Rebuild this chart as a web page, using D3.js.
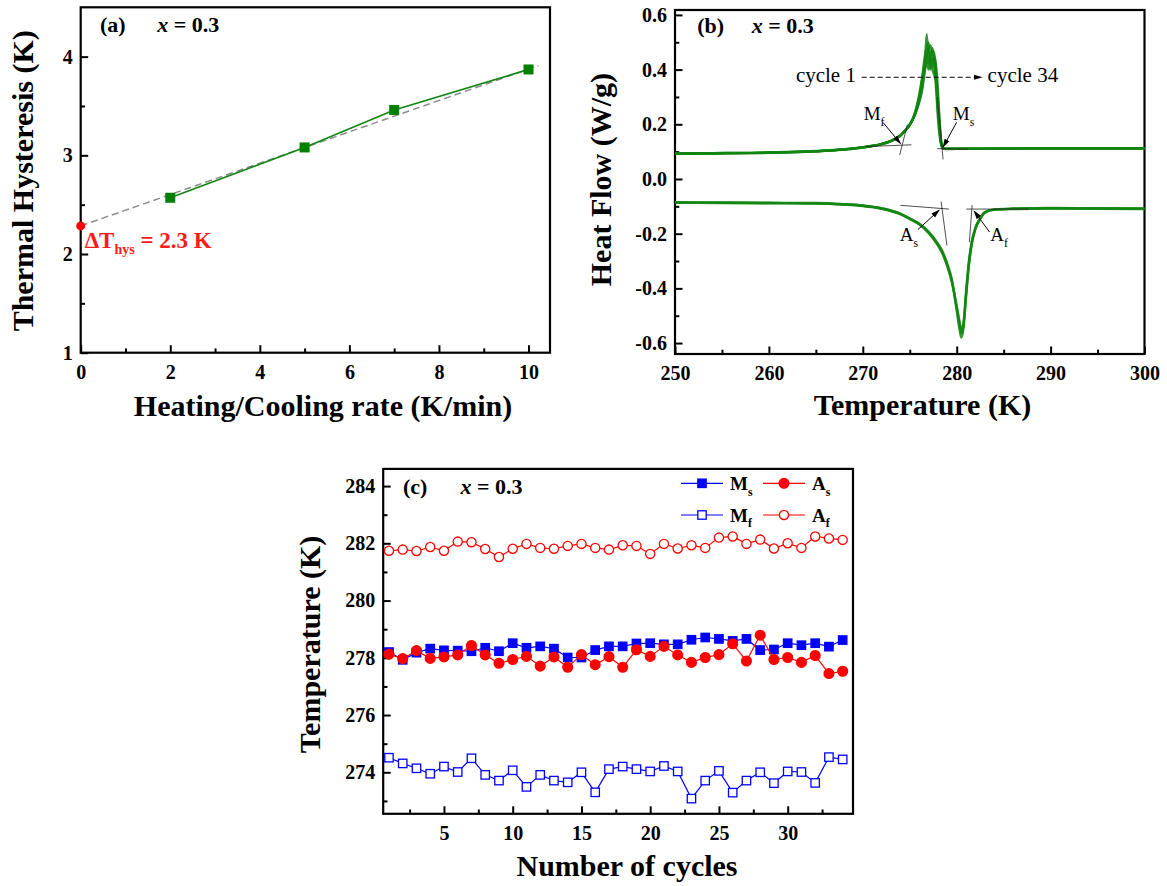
<!DOCTYPE html>
<html>
<head>
<meta charset="utf-8">
<script src="https://cdn.jsdelivr.net/npm/d3@7"></script>
<style>
body { margin: 0; background: #fff; }
svg { display: block; }
text { font-family: "Liberation Serif", "Times New Roman", serif; }
</style>
</head>
<body>
<svg id="plot" width="1167" height="886"></svg>
<script>
// ---- (a) hysteresis vs rate
rateX = [2, 5, 7, 10];
hysY = [2.57, 3.08, 3.46, 3.87];
fitX = [0, 10.22];
fitY = [2.285, 3.908];
zeroRate = [0];
zeroHys = [2.285];
aTicksX = [0, 2, 4, 6, 8, 10];
aMinorX = [1, 3, 5, 7, 9];
aTicksY = [1, 2, 3, 4];
aMinorY = [1.5, 2.5, 3.5];

// ---- (b) DSC curves
tempCool = [250, 254, 258, 262, 265, 268, 270, 271, 272, 273, 273.5, 274, 274.5, 275, 275.5,
    276, 276.3, 276.6, 276.8, 277, 277.2, 277.4, 277.6, 277.8, 278, 278.2, 278.4, 278.6,
    279, 280, 285, 290, 295, 300];
coolA = [0.093, 0.094, 0.095, 0.098, 0.102, 0.108, 0.116, 0.121, 0.128, 0.139, 0.148, 0.159, 0.176, 0.198, 0.232,
    0.29, 0.34, 0.42, 0.53, 0.45, 0.40, 0.44, 0.42, 0.33, 0.22, 0.15, 0.118, 0.111,
    0.110, 0.110, 0.111, 0.112, 0.112, 0.112];
coolB = [0.092, 0.093, 0.094, 0.097, 0.101, 0.107, 0.115, 0.120, 0.127, 0.138, 0.147, 0.158, 0.175, 0.197, 0.235,
    0.30, 0.36, 0.45, 0.48, 0.50, 0.43, 0.47, 0.46, 0.38, 0.26, 0.17, 0.120, 0.111,
    0.109, 0.110, 0.110, 0.111, 0.111, 0.111];
coolC = [0.094, 0.095, 0.096, 0.099, 0.103, 0.109, 0.117, 0.122, 0.129, 0.140, 0.149, 0.160, 0.177, 0.199, 0.230,
    0.28, 0.33, 0.40, 0.44, 0.47, 0.49, 0.46, 0.41, 0.35, 0.25, 0.16, 0.120, 0.112,
    0.111, 0.111, 0.112, 0.113, 0.113, 0.113];
coolD = [0.093, 0.094, 0.095, 0.098, 0.102, 0.108, 0.116, 0.121, 0.128, 0.139, 0.148, 0.160, 0.178, 0.201, 0.238,
    0.31, 0.37, 0.43, 0.46, 0.42, 0.45, 0.48, 0.44, 0.40, 0.30, 0.19, 0.125, 0.112,
    0.110, 0.110, 0.111, 0.112, 0.112, 0.112];
coolE = [0.092, 0.093, 0.095, 0.097, 0.101, 0.107, 0.115, 0.120, 0.127, 0.138, 0.147, 0.158, 0.176, 0.198, 0.233,
    0.29, 0.35, 0.41, 0.45, 0.48, 0.44, 0.41, 0.45, 0.42, 0.33, 0.21, 0.13, 0.112,
    0.110, 0.110, 0.111, 0.111, 0.112, 0.112];
coolF = [0.094, 0.095, 0.096, 0.098, 0.102, 0.108, 0.116, 0.121, 0.128, 0.139, 0.148, 0.159, 0.176, 0.197, 0.229,
    0.28, 0.32, 0.39, 0.43, 0.40, 0.42, 0.40, 0.38, 0.36, 0.28, 0.18, 0.125, 0.111,
    0.110, 0.110, 0.111, 0.112, 0.112, 0.112];

tempHeat = [250, 255, 260, 265, 268, 270, 272, 274, 275, 276, 277, 278, 278.5, 279, 279.5,
    280, 280.3, 280.5, 280.7, 281, 281.3, 281.6, 282, 282.5, 283, 284, 286, 290, 295, 300];
heatA = [-0.086, -0.087, -0.088, -0.089, -0.093, -0.098, -0.108, -0.128, -0.145, -0.165, -0.195, -0.24, -0.27, -0.315, -0.375,
    -0.47, -0.53, -0.565, -0.54, -0.42, -0.31, -0.235, -0.18, -0.145, -0.122, -0.112, -0.109, -0.107, -0.108, -0.109];
heatB = [-0.085, -0.086, -0.087, -0.088, -0.092, -0.097, -0.107, -0.127, -0.144, -0.163, -0.192, -0.236, -0.266, -0.31, -0.37,
    -0.48, -0.55, -0.58, -0.55, -0.43, -0.315, -0.24, -0.182, -0.146, -0.123, -0.113, -0.110, -0.108, -0.109, -0.110];
heatC = [-0.087, -0.088, -0.089, -0.090, -0.094, -0.099, -0.109, -0.129, -0.146, -0.166, -0.197, -0.243, -0.274, -0.32, -0.38,
    -0.465, -0.52, -0.55, -0.535, -0.41, -0.30, -0.23, -0.178, -0.144, -0.121, -0.111, -0.108, -0.106, -0.107, -0.108];

bTicksX = [250, 260, 270, 280, 290, 300];
bMinorX = [255, 265, 275, 285, 295];
bTicksY = [-0.6, -0.4, -0.2, 0, 0.2, 0.4, 0.6];
bLabelsY = ["-0.6", "-0.4", "-0.2", "0.0", "0.2", "0.4", "0.6"];
bMinorY = [-0.5, -0.3, -0.1, 0.1, 0.3, 0.5];

// ---- (c) characteristic temperatures per cycle
cycleNo = [1, 2, 3, 4, 5, 6, 7, 8, 9, 10, 11, 12, 13, 14, 15, 16, 17,
    18, 19, 20, 21, 22, 23, 24, 25, 26, 27, 28, 29, 30, 31, 32, 33, 34];
Af = [281.74, 281.78, 281.73, 281.87, 281.74, 282.06, 282.04, 281.80, 281.52, 281.81, 281.98, 281.84,
    281.81, 281.91, 281.98, 281.84, 281.78, 281.93, 281.91, 281.63, 281.98, 281.82, 281.93, 281.84,
    282.20, 282.24, 281.98, 282.13, 281.82, 282.00, 281.84, 282.24, 282.17, 282.12];
Ms = [278.20, 277.93, 278.18, 278.32, 278.26, 278.25, 278.23, 278.35, 278.23, 278.51, 278.35, 278.40,
    278.32, 278.01, 278.01, 278.27, 278.40, 278.40, 278.50, 278.51, 278.47, 278.47, 278.63, 278.71,
    278.66, 278.59, 278.66, 278.27, 278.29, 278.51, 278.44, 278.51, 278.39, 278.62];
As = [278.13, 277.97, 278.25, 277.98, 278.03, 278.10, 278.43, 278.10, 277.81, 277.94, 278.05, 277.71,
    278.03, 277.67, 278.11, 277.76, 278.04, 277.67, 278.28, 278.05, 278.40, 278.10, 277.84, 278.01,
    278.11, 278.49, 277.89, 278.79, 277.94, 278.01, 277.84, 278.08, 277.45, 277.53];
Mf = [274.51, 274.31, 274.14, 273.95, 274.20, 274.01, 274.49, 273.91, 273.71, 274.07, 273.49, 273.91,
    273.71, 273.65, 274.00, 273.30, 274.11, 274.20, 274.11, 274.03, 274.22, 274.03, 273.08, 273.71,
    274.05, 273.29, 273.71, 274.00, 273.62, 274.03, 274.01, 273.63, 274.53, 274.45];
cTicksX = [5, 10, 15, 20, 25, 30];
cMinorX = [2.5, 7.5, 12.5, 17.5, 22.5, 27.5, 32.5];
cTicksY = [274, 276, 278, 280, 282, 284];
cMinorY = [273, 275, 277, 279, 281, 283];

const svg = d3.select("#plot");
const green = "#118611";

svg.append("defs").append("marker")
    .attr("id", "arr")
    .attr("viewBox", "0 0 10 6")
    .attr("refX", 9).attr("refY", 3)
    .attr("markerWidth", 9).attr("markerHeight", 6)
    .attr("markerUnits", "userSpaceOnUse")
    .attr("orient", "auto")
    .append("path").attr("d", "M0,0L10,3L0,6Z").attr("fill", "black");

function drawFrame(x, y, major, minor, labels) {
    const [x0, x1] = x.range();
    const [y0, y1] = y.range();
    const g = svg.append("g");

    const bx = g.append("g").attr("transform", `translate(0,${y0})`)
        .call(d3.axisBottom(x).tickValues(major.x).tickSize(-7.5).tickPadding(12)
            .tickFormat((d, i) => labels.x ? labels.x[i] : d));
    g.append("g").attr("transform", `translate(0,${y0})`)
        .call(d3.axisBottom(x).tickValues(minor.x).tickSize(-4.3).tickFormat(""));
    g.append("g").attr("transform", `translate(${x0},0)`)
        .call(d3.axisLeft(y).tickValues(major.y).tickSize(-7.5).tickPadding(8)
            .tickFormat((d, i) => labels.y ? labels.y[i] : d));
    g.append("g").attr("transform", `translate(${x0},0)`)
        .call(d3.axisLeft(y).tickValues(minor.y).tickSize(-4.3).tickFormat(""));

    g.selectAll(".domain").remove();
    g.selectAll(".tick line").attr("stroke", "black").attr("stroke-width", 2);
    g.selectAll(".tick text")
        .attr("font-family", "Liberation Serif")
        .attr("font-weight", "bold")
        .attr("font-size", 20)
        .attr("fill", "black");

    g.append("rect")
        .attr("x", x0).attr("y", y1)
        .attr("width", x1 - x0).attr("height", y0 - y1)
        .attr("fill", "none").attr("stroke", "black").attr("stroke-width", 2.2);
    return g;
}

function title(txt, x, y, rotate) {
    const t = svg.append("text")
        .text(txt)
        .attr("font-size", 30)
        .attr("font-weight", "bold")
        .attr("text-anchor", "middle");
    if (rotate) t.attr("transform", `translate(${x},${y}) rotate(-90)`);
    else t.attr("x", x).attr("y", y);
}

function panelTag(tag, x, xx, y) {
    svg.append("text").text(tag)
        .attr("x", x).attr("y", y)
        .attr("font-size", 22).attr("font-weight", "bold");
    const t = svg.append("text")
        .attr("x", xx).attr("y", y)
        .attr("font-size", 22).attr("font-weight", "bold");
    t.append("tspan").attr("font-style", "italic").text("x");
    t.append("tspan").text(" = 0.3");
}

function subLabel(g, main, sub, x, y, size, bold) {
    const t = g.append("text")
        .attr("x", x).attr("y", y)
        .attr("font-size", size)
        .attr("font-weight", bold ? "bold" : "normal");
    t.append("tspan").text(main);
    t.append("tspan").attr("font-size", size * 0.62).attr("dy", size * 0.3).text(sub);
    return t;
}

// ================= (a)
const xa = d3.scaleLinear().domain([0, 10.48]).range([80.7, 550]);
const ya = d3.scaleLinear().domain([1, 4.5]).range([352.7, 7.3]);
drawFrame(xa, ya, {x: aTicksX, y: aTicksY}, {x: aMinorX, y: aMinorY}, {});

svg.append("path")
    .datum(fitX.map((d, i) => [d, fitY[i]]))
    .attr("fill", "none")
    .attr("stroke", "#8c8c8c")
    .attr("stroke-width", 1.5)
    .attr("stroke-dasharray", "7,4")
    .attr("d", d3.line().x(d => xa(d[0])).y(d => ya(d[1])));

svg.append("path")
    .datum(rateX.map((d, i) => [d, hysY[i]]))
    .attr("fill", "none")
    .attr("stroke", green)
    .attr("stroke-width", 1.6)
    .attr("d", d3.line().x(d => xa(d[0])).y(d => ya(d[1])));

svg.append("g").selectAll("rect")
    .data(rateX.map((d, i) => [d, hysY[i]]))
    .join("rect")
    .attr("x", d => xa(d[0]) - 5).attr("y", d => ya(d[1]) - 5)
    .attr("width", 10).attr("height", 10)
    .attr("fill", "#008000");

svg.append("g").selectAll("circle")
    .data(zeroRate.map((d, i) => [d, zeroHys[i]]))
    .join("circle")
    .attr("cx", d => xa(d[0])).attr("cy", d => ya(d[1]))
    .attr("r", 4.5).attr("fill", "red");

const dt = svg.append("text")
    .attr("x", xa(0) + 4).attr("y", ya(zeroHys[0]) + 22)
    .attr("font-size", 23).attr("font-weight", "bold").attr("fill", "#ff1a1a");
dt.append("tspan").text("\u0394T");
dt.append("tspan").attr("font-size", 14).attr("dy", 6).text("hys");
dt.append("tspan").attr("dy", -6).text(" = 2.3 K");

panelTag("(a)", 100, 157.3, 31.7);
title("Heating/Cooling rate (K/min)", 323, 415.5, false);
title("Thermal Hysteresis (K)", 33, 180.8, true);

// ================= (b)
const xb = d3.scaleLinear().domain([250, 300]).range([675, 1144.5]);
const yb = d3.scaleLinear().domain([-0.64, 0.618]).range([354, 10]);
drawFrame(xb, yb, {x: bTicksX, y: bTicksY}, {x: bMinorX, y: bMinorY}, {y: bLabelsY});

const gb = svg.append("g");
const coolLine = d3.line().x((d, i) => xb(tempCool[i])).y(d => yb(d)).curve(d3.curveMonotoneX);
const heatLine = d3.line().x((d, i) => xb(tempHeat[i])).y(d => yb(d)).curve(d3.curveMonotoneX);

gb.selectAll(".cool")
    .data([coolA, coolB, coolC, coolD, coolE, coolF])
    .join("path")
    .attr("fill", "none")
    .attr("stroke", green)
    .attr("stroke-width", 2.2)
    .attr("stroke-opacity", 0.85)
    .attr("d", coolLine);

gb.selectAll(".heat")
    .data([heatA, heatB, heatC])
    .join("path")
    .attr("fill", "none")
    .attr("stroke", green)
    .attr("stroke-width", 2.4)
    .attr("stroke-opacity", 0.85)
    .attr("d", heatLine);

// onset tangents
tangents = [
    [[270.3, 0.1185], [275.17, 0.125]],
    [[273.93, 0.0877], [274.75, 0.199]],
    [[277.93, 0.30], [278.55, 0.0716]],
    [[277.93, 0.111], [281.23, 0.109]],
    [[274.0, -0.0963], [279.17, -0.11]],
    [[278.34, -0.0827], [278.96, -0.243]],
    [[281.64, -0.095], [281.35, -0.231]],
    [[281.02, -0.11], [287.62, -0.11]]
];
gb.selectAll(".tan")
    .data(tangents)
    .join("line")
    .attr("x1", d => xb(d[0][0])).attr("y1", d => yb(d[0][1]))
    .attr("x2", d => xb(d[1][0])).attr("y2", d => yb(d[1][1]))
    .attr("stroke", "#222").attr("stroke-width", 0.8);

arrows = [
    [[272.15, 0.207], [274.01, 0.130]],
    [[279.99, 0.207], [278.55, 0.117]],
    [[275.87, -0.185], [278.14, -0.114]],
    [[283.5, -0.194], [281.85, -0.117]]
];
gb.selectAll(".arw")
    .data(arrows)
    .join("line")
    .attr("x1", d => xb(d[0][0])).attr("y1", d => yb(d[0][1]))
    .attr("x2", d => xb(d[1][0])).attr("y2", d => yb(d[1][1]))
    .attr("stroke", "black").attr("stroke-width", 1)
    .attr("marker-end", "url(#arr)");

subLabel(gb, "M", "f", xb(270.09), yb(0.216), 19, false);
subLabel(gb, "M", "s", xb(279.58), yb(0.216), 19, false);
subLabel(gb, "A", "s", xb(273.93), yb(-0.227), 19, false);
subLabel(gb, "A", "f", xb(283.58), yb(-0.227), 19, false);

gb.append("line")
    .attr("x1", xb(269.88)).attr("y1", yb(0.372))
    .attr("x2", xb(282.67)).attr("y2", yb(0.372))
    .attr("stroke", "black").attr("stroke-width", 1)
    .attr("stroke-dasharray", "5,3")
    .attr("marker-end", "url(#arr)");
gb.append("text").text("cycle 1")
    .attr("x", xb(269.27)).attr("y", yb(0.3545))
    .attr("text-anchor", "end").attr("font-size", 21);
gb.append("text").text("cycle 34")
    .attr("x", xb(283.29)).attr("y", yb(0.3545))
    .attr("font-size", 21);

panelTag("(b)", 697.3, 751.7, 33);
title("Temperature (K)", 922.5, 415, false);
title("Heat Flow (W/g)", 611, 179.6, true);

// ================= (c)
const xc = d3.scaleLinear().domain([0.58, 34.75]).range([383.2, 853]);
const yc = d3.scaleLinear().domain([272.55, 284.6]).range([813.8, 468.9]);
drawFrame(xc, yc, {x: cTicksX, y: cTicksY}, {x: cMinorX, y: cMinorY}, {});

const seriesC = [
    {key: "f", letter: "A", vals: Af, color: "#ff0000", shape: "circle", filled: false, lx: 763},
    {key: "s", letter: "M", vals: Ms, color: "#0000ff", shape: "square", filled: true, lx: 681},
    {key: "s", letter: "A", vals: As, color: "#ff0000", shape: "circle", filled: true, lx: 763},
    {key: "f", letter: "M", vals: Mf, color: "#0000ff", shape: "square", filled: false, lx: 681}
];
const gc = svg.append("g");

function marker(sel, s) {
    if (s.shape === "square") {
        sel.append("rect")
            .attr("x", -4.2).attr("y", -4.2).attr("width", 8.4).attr("height", 8.4)
            .attr("fill", s.filled ? s.color : "white")
            .attr("stroke", s.color).attr("stroke-width", 1.3);
    } else {
        sel.append("circle")
            .attr("r", s.filled ? 4.9 : 4.6)
            .attr("fill", s.filled ? s.color : "white")
            .attr("stroke", s.color).attr("stroke-width", 1.3);
    }
}

seriesC.forEach(s => {
    const pts = cycleNo.map((c, i) => [c, s.vals[i]]);
    gc.append("path")
        .datum(pts)
        .attr("fill", "none")
        .attr("stroke", s.color)
        .attr("stroke-width", 1.2)
        .attr("d", d3.line().x(d => xc(d[0])).y(d => yc(d[1])));
    gc.append("g").selectAll("g")
        .data(pts)
        .join("g")
        .attr("transform", d => `translate(${xc(d[0])},${yc(d[1])})`)
        .each(function () { marker(d3.select(this), s); });
});

// legend
const legRows = {s: 483.3, f: 515};
seriesC.forEach(s => {
    const ly = legRows[s.key];
    const lg = gc.append("g");
    lg.append("line")
        .attr("x1", s.lx).attr("x2", s.lx + 42)
        .attr("y1", ly).attr("y2", ly)
        .attr("stroke", s.color).attr("stroke-width", 1.2);
    marker(lg.append("g").attr("transform", `translate(${s.lx + 21},${ly})`), s);
    subLabel(lg, s.letter, s.key, s.lx + 49, ly + 6.5, 19, true);
});

panelTag("(c)", 403, 460.5, 494.3);
title("Number of cycles", 627, 876, false);
title("Temperature (K)", 320, 644.4, true);
</script>
</body>
</html>
